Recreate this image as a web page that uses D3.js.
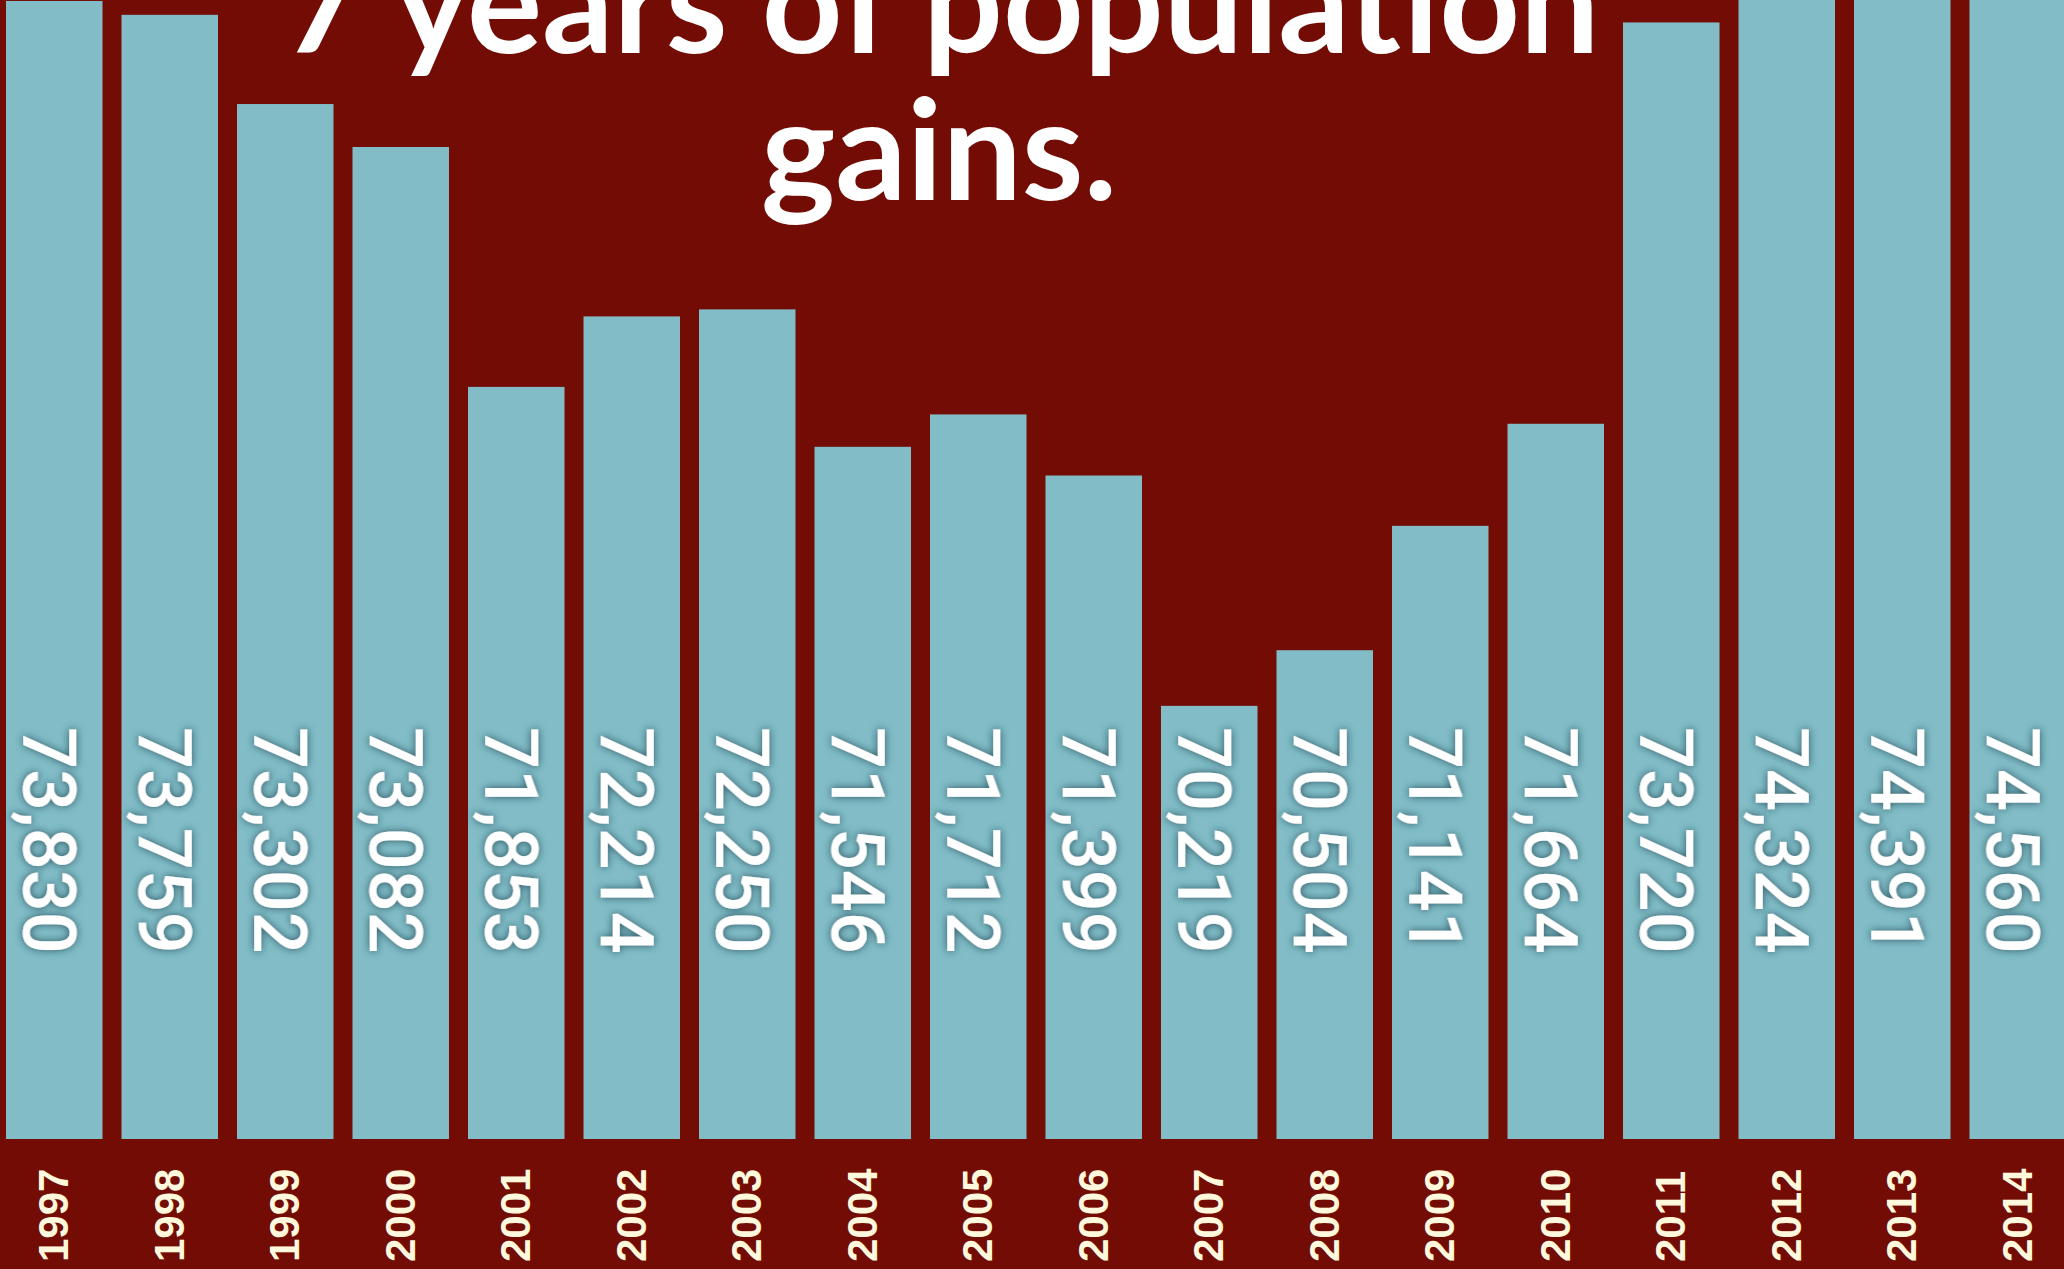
<!DOCTYPE html>
<html>
<head>
<meta charset="utf-8">
<script src="https://cdn.jsdelivr.net/npm/d3@7"></script>
<style>
  html, body { margin: 0; padding: 0; background: #720c05; overflow: hidden; }
  svg { display: block; }
</style>
</head>
<body>
<script>
// ---- data ----
const years = ["1997","1998","1999","2000","2001","2002","2003","2004","2005","2006","2007","2008","2009","2010","2011","2012","2013","2014"];
const population = [73830,73759,73302,73082,71853,72214,72250,71546,71712,71399,70219,70504,71141,71664,73720,74324,74391,74560];
const titleLines = ["7 years of population", "gains."];
const yDomain = [68000, 73835];

const W = 2064, H = 1269;
const svg = d3.select("body").append("svg").attr("width", W).attr("height", H);

svg.append("rect").attr("width", W).attr("height", H).attr("fill", "#720c05");

const defs = svg.append("defs");
const f = defs.append("filter").attr("id", "shadow")
  .attr("x", "-30%").attr("y", "-30%").attr("width", "160%").attr("height", "160%");
f.append("feDropShadow").attr("dx", 0).attr("dy", 0).attr("stdDeviation", 4)
  .attr("flood-color", "#1c4a55").attr("flood-opacity", 0.9);

const x = d3.scaleBand().domain(years).range([6, 2066]).paddingInner(0.1645).paddingOuter(0);
const y = d3.scaleLinear().domain(yDomain).range([1139, 0]);

const data = years.map((yr, i) => ({ year: yr, value: population[i] }));

// bars
svg.append("g").selectAll("rect").data(data).join("rect")
  .attr("x", d => x(d.year))
  .attr("width", x.bandwidth())
  .attr("y", d => y(d.value))
  .attr("height", d => y(yDomain[0]) - y(d.value))
  .attr("fill", "#82bdc7");

// title
const title = svg.append("g");
const t1 = title.append("text").text(titleLines[0])
  .attr("font-family", "Lato, 'Open Sans', sans-serif").attr("font-weight", 700)
  .attr("font-size", 128).attr("fill", "#ffffff").attr("text-anchor", "middle")
  .attr("x", 941).attr("y", 53);
const w1 = t1.node().getComputedTextLength();
const fs = 128 * 1317 / w1;
t1.attr("font-size", fs);
title.append("text").text(titleLines[1])
  .attr("font-family", "Lato, 'Open Sans', sans-serif").attr("font-weight", 700)
  .attr("font-size", fs).attr("fill", "#ffffff").attr("text-anchor", "middle")
  .attr("x", 939).attr("y", 200);

// value labels (rotated, reading downward)
const fmt = d3.format(",");
svg.append("g").selectAll("text").data(data).join("text")
  .attr("transform", d => `translate(${x(d.year) + x.bandwidth() / 2 - 31},727) rotate(90)`)
  .attr("font-family", "Roboto, 'Liberation Sans', sans-serif")
  .attr("font-weight", 500)
  .attr("font-size", 74)
  .attr("fill", "#ffffff")
  .attr("filter", "url(#shadow)")
  .text(d => fmt(d.value));

// year labels (rotated, reading upward)
svg.append("g").selectAll("text").data(data).join("text")
  .attr("transform", d => `translate(${x(d.year) + x.bandwidth() / 2 + 14},1262) rotate(-90)`)
  .attr("font-family", "'Liberation Sans', Arial, sans-serif")
  .attr("font-weight", 700)
  .attr("font-size", 42)
  .attr("fill", "#fff8dc")
  .text(d => d.year);
</script>
</body>
</html>
